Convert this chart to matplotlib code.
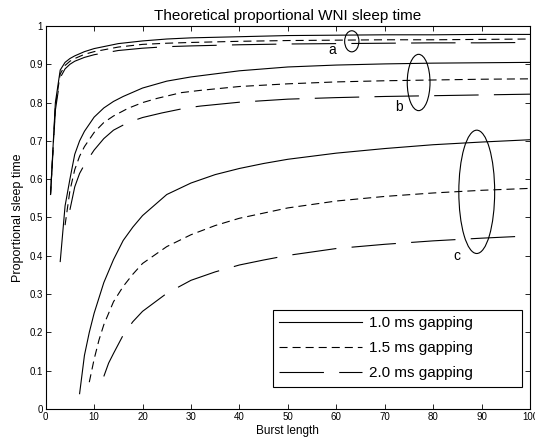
import matplotlib
matplotlib.use("Agg")
import matplotlib.pyplot as plt
from matplotlib.patches import Ellipse

plt.rcParams["font.family"] = ["Liberation Sans", "DejaVu Sans"]
plt.rcParams["lines.scale_dashes"] = False

# burst length / proportional sleep time
# group a (top), 1.0 / 1.5 / 2.0 ms gapping
a_x = [1, 2, 3, 4, 5, 6, 8, 10, 15, 20, 25, 30, 40, 50, 60, 70, 80, 90, 100]
a_10 = [0.56, 0.80, 0.885, 0.905, 0.915, 0.922, 0.933, 0.941, 0.954, 0.961,
        0.966, 0.969, 0.972, 0.975, 0.976, 0.977, 0.977, 0.978, 0.978]
a_15 = [0.56, 0.79, 0.875, 0.897, 0.908, 0.915, 0.926, 0.933, 0.945, 0.952,
        0.955, 0.957, 0.960, 0.962, 0.963, 0.964, 0.964, 0.965, 0.966]
a_20 = [0.56, 0.78, 0.865, 0.888, 0.900, 0.908, 0.918, 0.925, 0.936, 0.942,
        0.946, 0.948, 0.951, 0.953, 0.954, 0.955, 0.956, 0.956, 0.957]

# group b (middle)
b10_x = [3, 4, 5, 6, 7, 8, 10, 12, 14, 16, 20, 25, 30, 40, 50, 60, 70, 80, 90, 100]
b_10 = [0.385, 0.53, 0.60, 0.665, 0.70, 0.725, 0.762, 0.786, 0.803, 0.816,
        0.838, 0.856, 0.867, 0.883, 0.893, 0.898, 0.901, 0.903, 0.904, 0.905]
b15_x = [4, 5, 6, 7, 8, 10, 12, 14, 17, 20, 23, 28, 32, 40, 50, 60, 70, 80, 90, 100]
b_15 = [0.48, 0.57, 0.625, 0.66, 0.685, 0.722, 0.748, 0.765, 0.785, 0.800,
        0.811, 0.826, 0.832, 0.842, 0.849, 0.854, 0.857, 0.859, 0.861, 0.862]
b20_x = [5, 6, 7, 8, 10, 12, 14, 17, 20, 24, 29, 32, 40, 50, 60, 70, 80, 90, 100]
b_20 = [0.52, 0.58, 0.615, 0.638, 0.676, 0.706, 0.728, 0.748, 0.761, 0.773,
        0.786, 0.791, 0.801, 0.809, 0.813, 0.816, 0.818, 0.820, 0.822]

# group c (bottom)
c10_x = [7, 8, 9, 10, 12, 14, 16, 18, 20, 25, 30, 35, 40, 45, 50, 60, 70, 80, 90, 100]
c_10 = [0.04, 0.14, 0.20, 0.25, 0.33, 0.39, 0.44, 0.475, 0.505, 0.56, 0.59,
        0.612, 0.628, 0.641, 0.652, 0.668, 0.68, 0.69, 0.697, 0.703]
c15_x = [9, 10, 11, 12, 14, 16, 18, 20, 25, 30, 35, 40, 50, 60, 70, 80, 90, 100]
c_15 = [0.07, 0.13, 0.18, 0.22, 0.28, 0.32, 0.352, 0.38, 0.424, 0.455, 0.479,
        0.498, 0.525, 0.543, 0.555, 0.564, 0.571, 0.576]
c20_x = [12, 13, 14, 16, 18, 20, 25, 30, 35, 40, 45, 50, 60, 70, 80, 90, 100]
c_20 = [0.085, 0.12, 0.145, 0.193, 0.228, 0.255, 0.302, 0.336, 0.358, 0.376,
        0.389, 0.401, 0.419, 0.43, 0.439, 0.446, 0.452]

legend_labels = ["1.0 ms gapping", "1.5 ms gapping", "2.0 ms gapping"]

# ellipse markers: (cx, cy, width, height) in data units, label (x, y, text)
marks = [(63.2, 0.960, 2.95, 0.055), (77.0, 0.8525, 4.7, 0.147), (89.0, 0.567, 7.4, 0.322)]
mark_labels = [(59.2, 0.937, "a"), (72.9, 0.789, "b"), (85.0, 0.40, "c")]

SOLID = dict(color="black", lw=0.8, linestyle="-")
SHORT = dict(color="black", lw=0.8, dashes=(5.8, 3.6))
LONG = dict(color="black", lw=0.8, dashes=(32.0, 11.0))

fig = plt.figure(figsize=(5.35, 4.45), dpi=100)
ax = fig.add_axes([0.0854, 0.0809, 0.9053, 0.8607])

h1, = ax.plot(a_x, a_10, **SOLID)
h2, = ax.plot(a_x, a_15, **SHORT)
h3, = ax.plot(a_x, a_20, **LONG)
ax.plot(b10_x, b_10, **SOLID)
ax.plot(b15_x, b_15, **SHORT)
ax.plot(b20_x, b_20, **LONG)
ax.plot(c10_x, c_10, **SOLID)
ax.plot(c15_x, c_15, **SHORT)
ax.plot(c20_x, c_20, **LONG)

for cx, cy, w, h in marks:
    ax.add_patch(Ellipse((cx, cy), w, h, fill=False, ec="black", lw=0.8))
for tx, ty, t in mark_labels:
    ax.text(tx, ty, t, ha="center", va="center", fontsize=10)

ax.set_xlim(0, 100)
ax.set_ylim(0, 1)
ax.set_xticks(range(0, 101, 10))
ax.set_yticks([i / 10 for i in range(11)])
ax.set_yticklabels(["0"] + [f"{i / 10:.1f}" for i in range(1, 10)] + ["1"])
ax.tick_params(direction="in", top=True, right=True, length=3.5, width=0.6,
               labelsize=7, pad=2)
for s in ax.spines.values():
    s.set_linewidth(0.8)

ax.set_title("Theoretical proportional WNI sleep time", fontsize=11, pad=4)
ax.set_xlabel("Burst length", fontsize=8.5, labelpad=2)
ax.set_ylabel("Proportional sleep time", fontsize=9, labelpad=4)

leg = ax.legend([h1, h2, h3], legend_labels, loc="lower left",
                bbox_to_anchor=(0.469, 0.058, 0.515, 0.206), mode="expand",
                fontsize=11, handlelength=5.4, handletextpad=0.5,
                labelspacing=0.72, borderpad=0.42,
                fancybox=False, framealpha=1, edgecolor="black",
                borderaxespad=0)
leg.get_frame().set_linewidth(0.8)

fig.savefig("out.png", dpi=100)
